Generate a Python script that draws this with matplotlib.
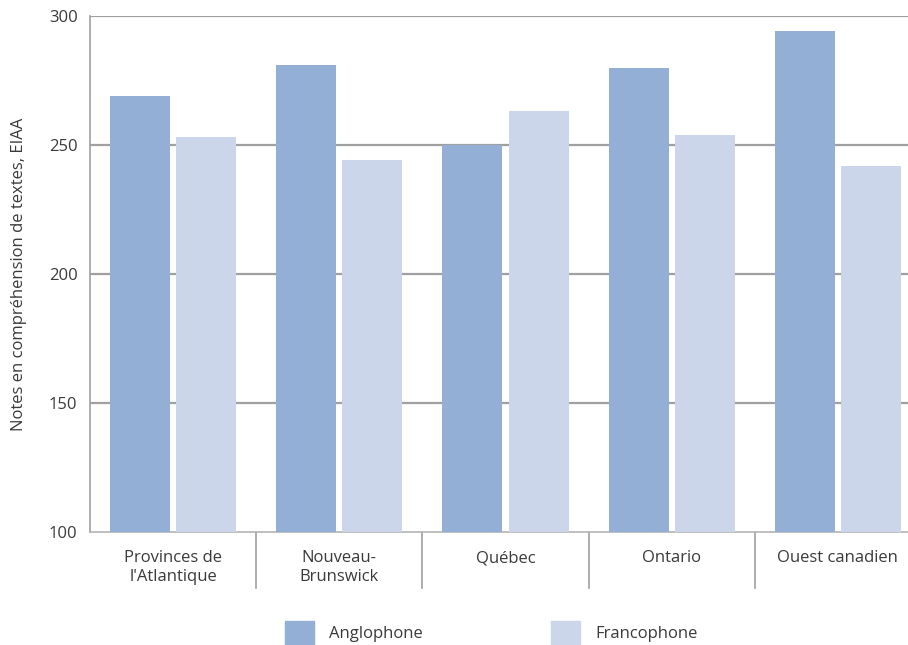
import matplotlib
matplotlib.use('Agg')
from matplotlib import pyplot as plt
from matplotlib.patches import Patch
import numpy as np

plt.rcParams['font.family'] = ['Open Sans', 'DejaVu Sans']

# données
categories = ["Provinces de\nl'Atlantique", "Nouveau-\nBrunswick", "Québec", "Ontario", "Ouest canadien"]
anglophone = [269, 281, 250, 280, 294]
francophone = [253, 244, 263, 254, 242]

c_anglo = '#93afd6'
c_franco = '#cbd6ea'
grid_c = '#a0a0a0'
txt_c = '#3a3a3a'
fs = 12

fig = plt.figure(figsize=(9.08, 6.45), dpi=100)
ax = fig.add_axes([90/908, 1-532/645, 831/908, 516/645])

x = np.arange(len(categories))
w = 0.361
off = 0.199
ax.bar(x - off, anglophone, w, color=c_anglo, zorder=3)
ax.bar(x + off, francophone, w, color=c_franco, zorder=3)

ax.set_xlim(-0.5, len(categories) - 0.5)
ax.set_ylim(100, 300)
ax.set_yticks([100, 150, 200, 250, 300])
for v in [150, 200, 250, 300]:
    ax.axhline(v, color=grid_c, lw=1.6, zorder=2)

for s in ['top', 'right']:
    ax.spines[s].set_visible(False)
ax.spines['left'].set_color(grid_c)
ax.spines['left'].set_linewidth(1.2)
ax.spines['bottom'].set_color('#b4b4b4')
ax.spines['bottom'].set_linewidth(1.2)

ax.set_xticks(x)
ax.set_xticklabels(categories, fontsize=fs, color=txt_c, linespacing=1.25)
ax.tick_params(axis='x', length=0, pad=13)
ax.tick_params(axis='y', length=0, pad=9, labelsize=fs, labelcolor=txt_c)

# séparateurs entre catégories
tr = matplotlib.transforms.blended_transform_factory(ax.transData, ax.transAxes)
for b in x[:-1] + 0.5:
    ax.plot([b, b], [0, -56/516], color=grid_c, lw=1.2, transform=tr, clip_on=False)

ax.set_ylabel('Notes en compréhension de textes, EIAA', fontsize=fs, color=txt_c)
ax.yaxis.set_label_coords(-(90-27)/831, 0.5)

handles = [Patch(color=c_anglo, label='Anglophone'), Patch(color=c_franco, label='Francophone')]
fig.legend(handles=handles, loc='center', bbox_to_anchor=(491/908, 1-633/645), ncol=2,
           frameon=False, fontsize=fs, handlelength=1.75, handleheight=1.75,
           handletextpad=0.9, columnspacing=7.7, labelcolor=txt_c)

fig.savefig('out.png', dpi=100)
